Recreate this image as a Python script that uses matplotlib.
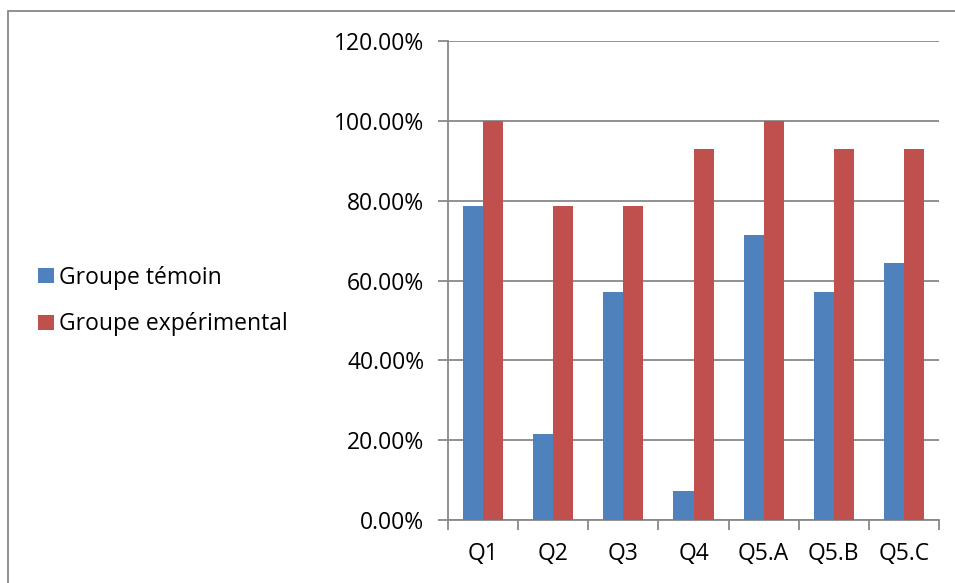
import matplotlib
matplotlib.use("Agg")
import matplotlib.pyplot as plt
from matplotlib.patches import Rectangle
from matplotlib.ticker import FuncFormatter, FixedLocator
import numpy as np

categories = ["Q1", "Q2", "Q3", "Q4", "Q5.A", "Q5.B", "Q5.C"]
temoin = [78.57, 21.43, 57.14, 7.14, 71.43, 57.14, 64.29]
experimental = [100.0, 78.57, 78.57, 92.86, 100.0, 92.86, 92.86]
series_names = ["Groupe témoin", "Groupe expérimental"]

plt.rcParams['font.family'] = ['Open Sans', 'DejaVu Sans']

W, H = 955, 583
fig = plt.figure(figsize=(W / 100, H / 100), dpi=100)
fig.patch.set_facecolor("white")

# outer chart border
fig.patches.append(Rectangle((8 / W, -0.1), 1.2, 1 - 11 / H + 0.1, transform=fig.transFigure,
                             fill=False, edgecolor="#888888", linewidth=1.3))

left, right, top, bottom = 448, 939, 41, 520
ax = fig.add_axes([left / W, 1 - bottom / H, (right - left) / W, (bottom - top) / H])

x = np.arange(len(categories))
bw = 0.286
b1 = ax.bar(x - bw / 2, temoin, bw, color="#4F81BD", label=series_names[0], zorder=3)
b2 = ax.bar(x + bw / 2, experimental, bw, color="#C0504D", label=series_names[1], zorder=3)

FS = 16.5
ax.set_xlim(-0.5, len(categories) - 0.5)
ax.set_ylim(0, 120)
ax.set_yticks(np.arange(0, 121, 20))
ax.yaxis.set_major_formatter(FuncFormatter(lambda v, p: f"{v:.2f}%"))
ax.grid(axis="y", color="#888888", linewidth=1.3, zorder=0)
ax.set_xticks(x)
ax.set_xticklabels(categories)
ax.xaxis.set_minor_locator(FixedLocator(np.arange(-0.5, len(categories), 1)))
ax.tick_params(axis="x", which="major", length=0, pad=16, labelsize=FS)
ax.tick_params(axis="x", which="minor", length=7, width=1.3, color="#888888")
ax.tick_params(axis="y", length=7, width=1.3, color="#888888", pad=10, labelsize=FS)
for s in ["top", "right"]:
    ax.spines[s].set_visible(False)
for s in ["left", "bottom"]:
    ax.spines[s].set_color("#888888")
    ax.spines[s].set_linewidth(1.3)

fig.legend(handles=[b1, b2], labels=series_names, loc="center left",
           bbox_to_anchor=(38 / W, 1 - 301 / H), frameon=False, fontsize=FS,
           borderpad=0, borderaxespad=0,
           handlelength=0.68, handleheight=0.68, handletextpad=0.25, labelspacing=1.0)

fig.savefig("out.png", dpi=100)
